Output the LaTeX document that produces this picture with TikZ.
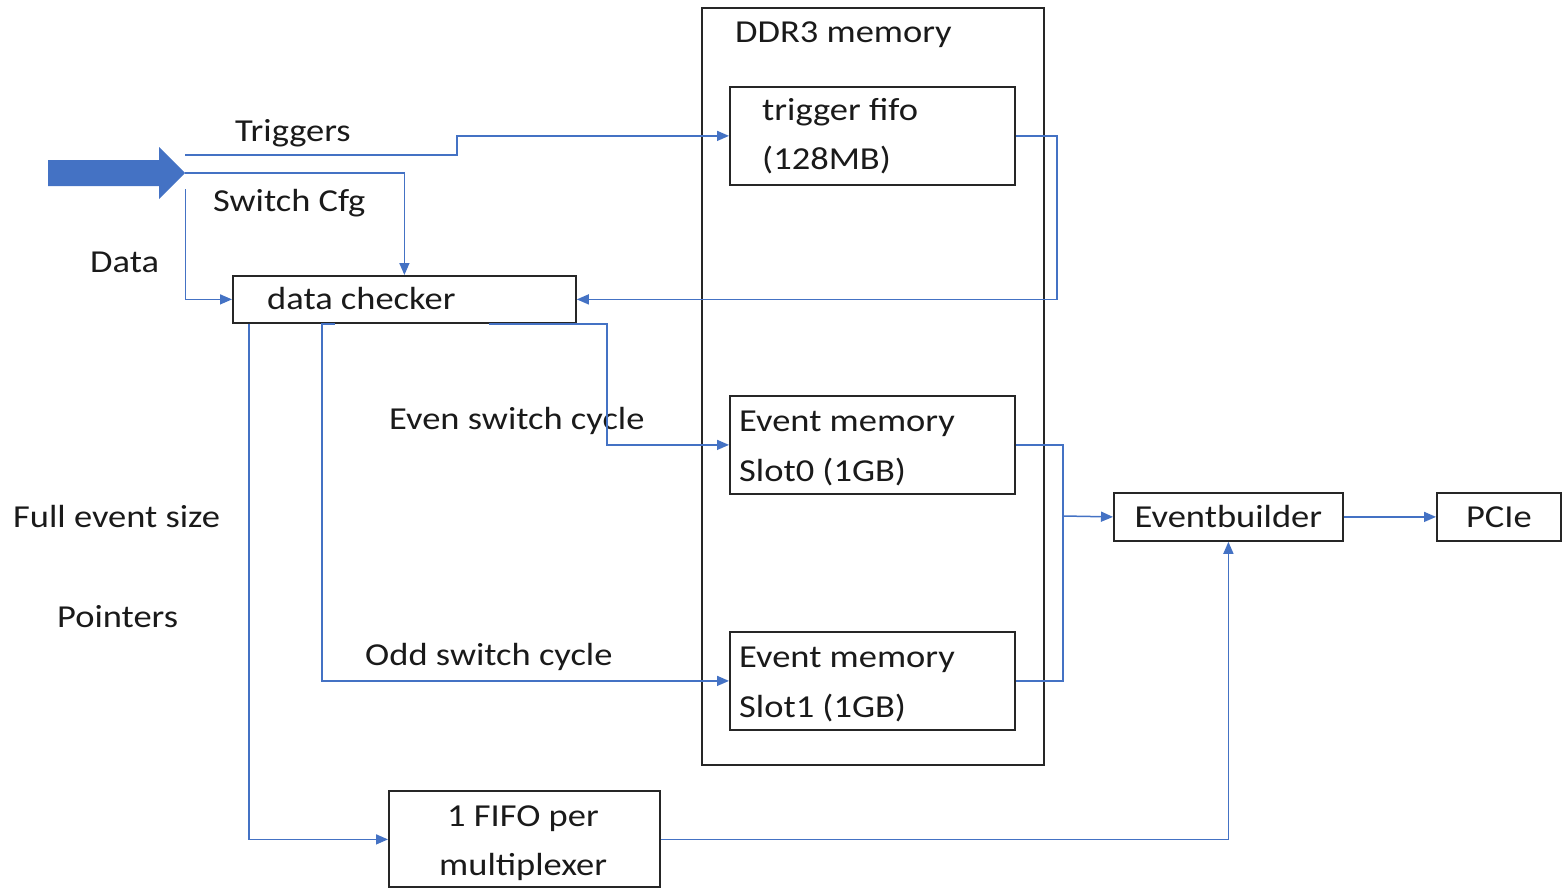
\documentclass[tikz,border=0pt]{standalone}
\usepackage{fontspec}
\setmainfont{Carlito}[FakeStretch=1.14]
\usetikzlibrary{arrows.meta}
\definecolor{lblue}{HTML}{4472C4}
\definecolor{txt}{HTML}{1A1A1A}
\begin{document}
\begin{tikzpicture}[x=1pt,y=-1pt,
  box/.style={draw=black!85,line width=1.8pt,inner sep=0pt,anchor=north west},
  wire/.style={draw=lblue,line width=1.5pt},
  con/.style={wire,-{Triangle[length=12pt,width=10pt]}},
  lbl/.style={anchor=base west,inner sep=0pt,text=txt,font=\fontsize{32}{38}\selectfont},
  clbl/.style={inner sep=0pt,text=txt,font=\fontsize{32}{38}\selectfont,align=center}]
\useasboundingbox (0,0) rectangle (1562,888);

% boxes
\node[box,minimum width=342pt,minimum height=757pt] (ddr) at (701,7) {};
\node[box,minimum width=285pt,minimum height=98pt] (tf) at (729,86) {};
\node[box,minimum width=343pt,minimum height=47pt] (dc) at (232,275) {};
\node[box,minimum width=285pt,minimum height=98pt] (s0) at (729,395) {};
\node[box,minimum width=285pt,minimum height=98pt] (s1) at (729,631) {};
\node[box,minimum width=229pt,minimum height=48pt] (eb) at (1113,492) {};
\node[box,minimum width=124pt,minimum height=48pt] (pc) at (1436,492) {};
\node[box,minimum width=271pt,minimum height=96pt] (ff) at (388,790) {};

% box texts
\node[lbl] (tddr) at (735,43) {DDR3 memory};
\node[lbl] (ttf1) at (762,121) {trigger fifo};
\node[lbl] (ttf2) at (762,169) {(128MB)};
\node[lbl] (tdc) at (267,309) {data checker};
\node[lbl] (ts01) at (739,431) {Event memory};
\node[lbl] (ts02) at (739,481) {Slot0 (1GB)};
\node[lbl] (ts11) at (739,667) {Event memory};
\node[lbl] (ts12) at (739,717) {Slot1 (1GB)};
\node[clbl] (teb) at (eb.center) {Eventbuilder};
\node[clbl] (tpc) at (pc.center) {PCIe};
\node[lbl] (tff1) at (447,826) {1 FIFO per};
\node[lbl] (tff2) at (439,875) {multiplexer};

% free labels
\node[lbl] (ltrg) at (235,142) {Triggers};
\node[lbl] (lcfg) at (213,211) {Switch Cfg};
\node[lbl] (ldat) at (90,272) {Data};
\node[lbl] (lfull) at (13,527) {Full event size};
\node[lbl] (lptr) at (57,627) {Pointers};
\node[lbl] (leven) at (389,429) {Even switch cycle};
\node[lbl] (lodd) at (365,665) {Odd switch cycle};

% big input arrow
\fill[lblue] (48,160) -- (159,160) -- (159,147) -- (185,173) -- (159,199) -- (159,186) -- (48,186) -- cycle;
\coordinate (trg0) at (185,155);
\coordinate (cfg0) at (185,173);
\coordinate (dat0) at (185.5,189);

% connectors
\draw[con] (trg0) -- (457,155) |- (tf.west);
\draw[con] (cfg0) -| (dc.north);
\draw[con] (dat0) |- (dc.west);
\draw[con] (tf.east) -- ++(41,0) |- (dc.east);
\draw[con] ([xshift=-88pt]dc.south east) -| ([xshift=-122pt]s0.west) -- (s0.west);
\draw[con] ([xshift=103pt]dc.south west) -- ++(-13,0) |- (s1.west);
\draw[con] ([xshift=17pt]dc.south west) |- ([yshift=-0.5pt]ff.west);
\draw[con] ([yshift=-0.5pt]ff.east) -| (eb.south);
\coordinate (j) at (1063,516);
\draw[wire] (s0.east) -| (j) |- (s1.east);
\draw[con] (j) -- (eb.west);
\draw[con] (eb.east) -- (eb.east -| pc.west);
\end{tikzpicture}
\end{document}
